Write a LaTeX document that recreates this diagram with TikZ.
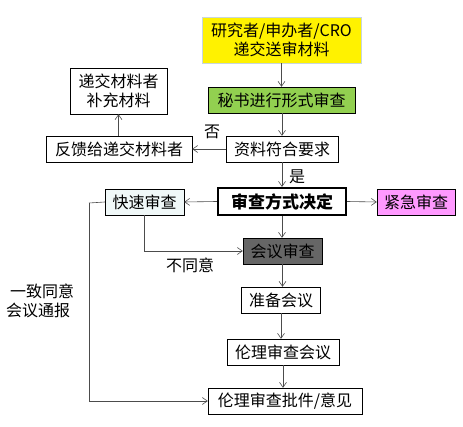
\documentclass[tikz,border=0pt]{standalone}
\usepackage{fontspec}
\setmainfont{Noto Sans CJK SC}
\usetikzlibrary{arrows.meta, positioning}
\definecolor{verdeS}{HTML}{92D050}
\definecolor{rosaU}{HTML}{FF99FF}
\definecolor{celesteR}{HTML}{F0F8F8}

\begin{document}
\begin{tikzpicture}[x=1pt, y=-1pt,
    caja/.style   = {draw=black, fill=white, inner sep=0pt, align=center,
                     minimum height=26pt, font=\fontsize{16}{19}\selectfont},
    fuente/.style = {caja, draw=cyan!25!gray!40, fill=yellow, minimum height=46pt},
    decide/.style = {caja, line width=2.2pt, font=\fontsize{17}{20}\selectfont\bfseries},
    flecha/.style = {-{Straight Barb[length=5pt, width=7pt]}, semithick, black!70},
    linea/.style  = {semithick, black!70},
    etiq/.style   = {font=\fontsize{16}{19}\selectfont, inner sep=0pt},
]
\useasboundingbox (0,0) rectangle (463,427);

% --- Cajas ---
\node[fuente, minimum width=159pt] (src) at (281.5,40) {研究者/申办者/CRO\\递交送审材料};
\node[caja, fill=verdeS, minimum width=147pt] (sec) at (281.5,100) {秘书进行形式审查};
\node[caja, minimum width=112pt] (req) at (282,149) {资料符合要求};
\node[caja, minimum width=146pt] (fdb) at (119,149) {反馈给递交材料者};
\node[caja, minimum width=97pt, minimum height=46pt] (sup) at (118.5,91) {递交材料者\\补充材料};
\node[decide, minimum width=128pt, minimum height=27pt] (mod) at (282,201.5) {审查方式决定};
\node[caja, fill=celesteR, minimum width=79pt] (rap) at (144.5,202) {快速审查};
\node[caja, fill=rosaU, minimum width=78pt] (urg) at (416,202) {紧急审查};
\node[caja, fill=black!60, minimum width=79pt] (reu) at (282.5,251) {会议审查};
\node[caja, minimum width=79pt] (pre) at (281,300) {准备会议};
\node[caja, minimum width=112pt] (eti) at (283,352) {伦理审查会议};
\node[caja, minimum width=154pt] (apr) at (285,401) {伦理审查批件/意见};

% --- Etiquetas ---
\node[etiq] (no) at (212,132) {否};
\node[etiq] (si) at (297,177) {是};
\node[etiq] (des) at (190,265) {不同意};
\node[etiq, align=left] (una) at (40,301) {\hspace{4pt}一致同意\\会议通报};

% --- Flechas ---
\draw[flecha] (src.south) -- (src.south |- sec.north);
\draw[flecha] (sec.south -| req.north) -- (req.north);
\draw[flecha] (req.west) -- (fdb.east);
\draw[flecha] (fdb.north -| sup.south) -- (sup.south);
\draw[flecha] (req.south) -- (req.south |- mod.north);
\draw[flecha] (mod.west) -- (rap.east);
\draw[flecha] (mod.east) -- (urg.west);
\draw[flecha] (mod.south) -- (mod.south |- reu.north);
\draw[flecha] (rap.south) |- (reu.west);
\draw[flecha] (reu.south) -- (reu.south |- pre.north);
\draw[flecha] (pre.south) -- (pre.south |- eti.north);
\draw[flecha] (eti.south) -- (eti.south |- apr.north);
\coordinate (izq) at (89,203);
\draw[linea] (rap.west) -- (izq);
\draw[flecha] (izq) |- (apr.west);

\end{tikzpicture}
\end{document}
